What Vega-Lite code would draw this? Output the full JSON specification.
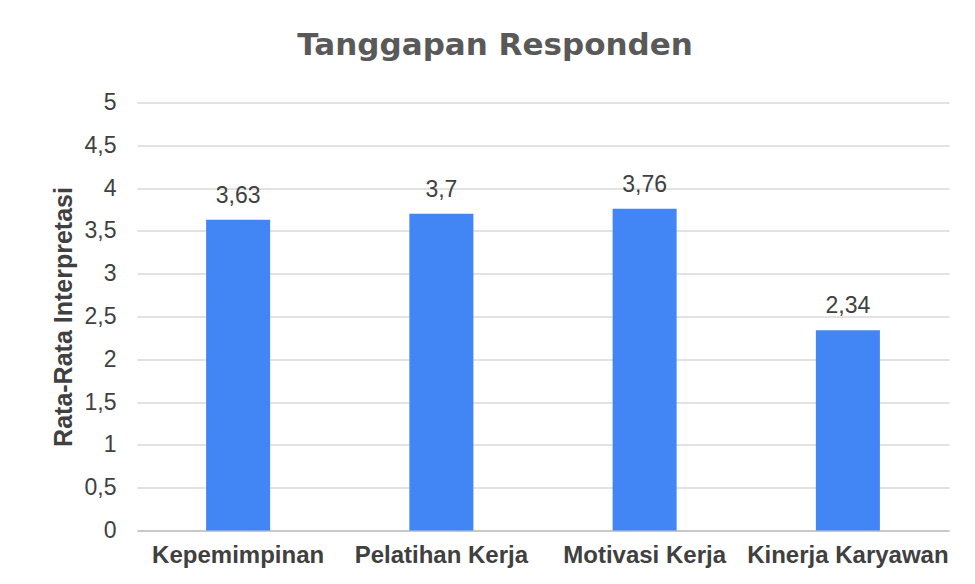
{
  "$schema": "https://vega.github.io/schema/vega-lite/v6.json",
  "autosize": {"type": "none"},
  "padding": {"left": 137, "top": 102.5, "right": 26, "bottom": 53},
  "width": 812,
  "height": 428,
  "background": "white",
  "title": {
    "text": "Tanggapan Responden",
    "font": "DejaVu Sans",
    "fontSize": 31,
    "fontWeight": "bold",
    "color": "#595959",
    "anchor": "middle",
    "baseline": "alphabetic",
    "offset": 6,
    "dx": -48
  },
  "data": {
    "values": [
      {"variabel": "Kepemimpinan", "nilai": 3.63},
      {"variabel": "Pelatihan Kerja", "nilai": 3.7},
      {"variabel": "Motivasi Kerja", "nilai": 3.76},
      {"variabel": "Kinerja Karyawan", "nilai": 2.34}
    ]
  },
  "encoding": {
    "x": {
      "field": "variabel",
      "type": "nominal",
      "sort": null,
      "scale": {"paddingInner": 0.685, "paddingOuter": 0.34},
      "axis": {
        "title": null,
        "labelAngle": 0,
        "labelFont": "Liberation Sans",
        "labelFontSize": 24,
        "labelFontWeight": "bold",
        "labelColor": "#404040",
        "labelPadding": 13,
        "labelLimit": 0,
        "ticks": false,
        "domain": true,
        "domainColor": "#bfbfbf",
        "domainWidth": 1.5,
        "grid": false
      }
    },
    "y": {
      "field": "nilai",
      "type": "quantitative",
      "scale": {"domain": [0, 5], "nice": false},
      "axis": {
        "title": "Rata-Rata Interpretasi",
        "titleFont": "Liberation Sans",
        "titleFontSize": 25,
        "titleFontWeight": "bold",
        "titleColor": "#404040",
        "titlePadding": 8,
        "values": [0, 0.5, 1, 1.5, 2, 2.5, 3, 3.5, 4, 4.5, 5],
        "format": "~g",
        "labelFont": "Liberation Sans",
        "labelFontSize": 23,
        "labelColor": "#404040",
        "labelPadding": 21,
        "ticks": false,
        "domain": false,
        "grid": true,
        "gridColor": "#d9d9d9",
        "gridWidth": 1.5
      }
    }
  },
  "layer": [
    {"mark": {"type": "bar", "color": "#4285f4"}},
    {
      "mark": {
        "type": "text",
        "font": "Liberation Sans",
        "fontSize": 23,
        "color": "#404040",
        "baseline": "alphabetic",
        "dy": -17
      },
      "encoding": {"text": {"field": "nilai", "type": "quantitative", "format": "~g"}}
    }
  ],
  "config": {
    "view": {"stroke": null},
    "locale": {
      "number": {
        "decimal": ",",
        "thousands": ".",
        "grouping": [3],
        "currency": ["Rp", ""]
      }
    }
  }
}
